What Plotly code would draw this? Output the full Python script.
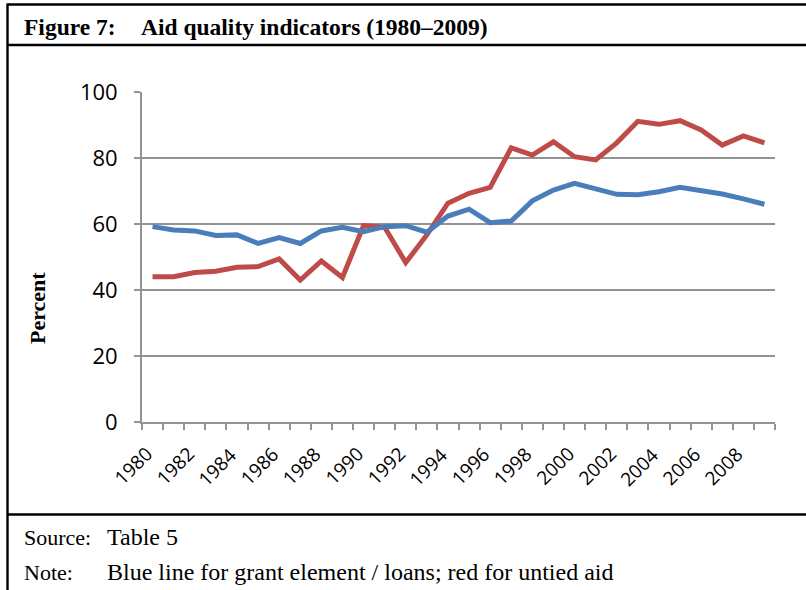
import plotly.graph_objects as go

years = [str(y) for y in range(1980, 2010)]
grant_element = [59.2, 58.2, 57.9, 56.5, 56.7, 54.1, 55.9, 54.1, 57.9, 59.0,
                 57.7, 59.2, 59.5, 57.5, 62.4, 64.5, 60.4, 60.9, 67.0, 70.3,
                 72.3, 70.6, 69.0, 68.9, 69.8, 71.1, 70.1, 69.1, 67.6, 66.0]
untied_aid = [44.0, 44.0, 45.3, 45.7, 46.9, 47.1, 49.4, 43.0, 48.8, 43.8,
              59.5, 59.0, 48.3, 56.7, 66.3, 69.3, 71.1, 83.1, 80.9, 84.9,
              80.4, 79.4, 84.6, 91.1, 90.2, 91.3, 88.5, 83.9, 86.7, 84.6]
tick_labels = [y for y in years if int(y) % 2 == 0]
y_ticks = [0, 20, 40, 60, 80, 100]

W, H = 806, 590
L, R, T, B = 142, 31, 92, 168
PW, PH = W - L - R, H - T - B


def px(x):
    return (x - L) / PW


def py(y):
    return (H - B - y) / PH


fig = go.Figure()
fig.add_trace(go.Scatter(x=years, y=untied_aid, mode="lines",
                         line=dict(color="#be4b48", width=5),
                         name="Untied aid", hoverinfo="skip"))
fig.add_trace(go.Scatter(x=years, y=grant_element, mode="lines",
                         line=dict(color="#4a7ebb", width=5),
                         name="Grant element / loans", hoverinfo="skip"))

grey = "#939393"
fig.update_xaxes(type="category", tickmode="array", tickvals=years,
                 range=[-0.5, len(years) - 0.5],
                 showticklabels=False, tickson="boundaries",
                 ticks="outside", ticklen=6, tickwidth=1.8, tickcolor=grey,
                 showgrid=False, showline=True, linecolor=grey, linewidth=1.8)
fig.update_yaxes(range=[0, 100], tickvals=y_ticks, ticks="outside",
                 ticklen=6, tickwidth=1.8, tickcolor=grey,
                 showgrid=True, gridcolor=grey, gridwidth=1.8,
                 showline=True, linecolor=grey, linewidth=1.8,
                 zeroline=False, ticklabelstandoff=12,
                 tickfont=dict(family="Open Sans", size=22, color="#000000"))

shapes = []
blk = dict(color="#000000", width=2.4)
shapes.append(dict(type="line", xref="paper", yref="paper",
                   x0=px(7.5), x1=px(806), y0=py(4.5), y1=py(4.5), line=blk))
shapes.append(dict(type="line", xref="paper", yref="paper",
                   x0=px(7.5), x1=px(7.5), y0=py(3.5), y1=py(590), line=blk))
shapes.append(dict(type="line", xref="paper", yref="paper",
                   x0=px(7.5), x1=px(806), y0=py(45), y1=py(45), line=blk))
shapes.append(dict(type="line", xref="paper", yref="paper",
                   x0=px(7.5), x1=px(806), y0=py(514.5), y1=py(514.5), line=blk))

serif = "Liberation Serif"
ann = []
# rotated category labels (every other year), anchored just right of centre
for lab in tick_labels:
    ann.append(dict(text=lab, x=years.index(lab), xref="x", y=py(442),
                    yref="paper", xanchor="right", yanchor="top", xshift=5,
                    textangle=-45, showarrow=False, borderpad=0, borderwidth=0,
                    font=dict(family="Open Sans", size=19, color="#000000")))
ann.append(dict(text="<b>Figure 7:</b>", x=px(22), y=py(27), xref="paper",
                yref="paper", xanchor="left", yanchor="middle", showarrow=False,
                font=dict(family=serif, size=23.5, color="#000000")))
ann.append(dict(text="<b>Aid quality indicators (1980–2009)</b>", x=px(139),
                y=py(27), xref="paper", yref="paper", xanchor="left",
                yanchor="middle", showarrow=False,
                font=dict(family=serif, size=23.5, color="#000000")))
ann.append(dict(text="<b>Percent</b>", x=px(37), y=py(308), xref="paper",
                yref="paper", xanchor="center", yanchor="middle", textangle=-90,
                showarrow=False,
                font=dict(family=serif, size=22, color="#000000")))
for label, body, yy in [("Source:", "Table 5", 537),
                        ("Note:", "Blue line for grant element / loans; red for untied aid", 572)]:
    ann.append(dict(text=label, x=px(22), y=py(yy), xref="paper", yref="paper",
                    xanchor="left", yanchor="middle", showarrow=False,
                    font=dict(family=serif, size=22, color="#000000")))
    ann.append(dict(text=body, x=px(105), y=py(yy), xref="paper", yref="paper",
                    xanchor="left", yanchor="middle", showarrow=False,
                    font=dict(family=serif, size=24, color="#000000")))

fig.update_layout(width=W, height=H, margin=dict(l=L, r=R, t=T, b=B),
                  paper_bgcolor="#ffffff", plot_bgcolor="#ffffff",
                  showlegend=False, shapes=shapes, annotations=ann)

fig.write_html("out.html", config={"displayModeBar": False},
               post_script="document.body.style.margin='0';"
                           "document.body.style.overflow='hidden';")
